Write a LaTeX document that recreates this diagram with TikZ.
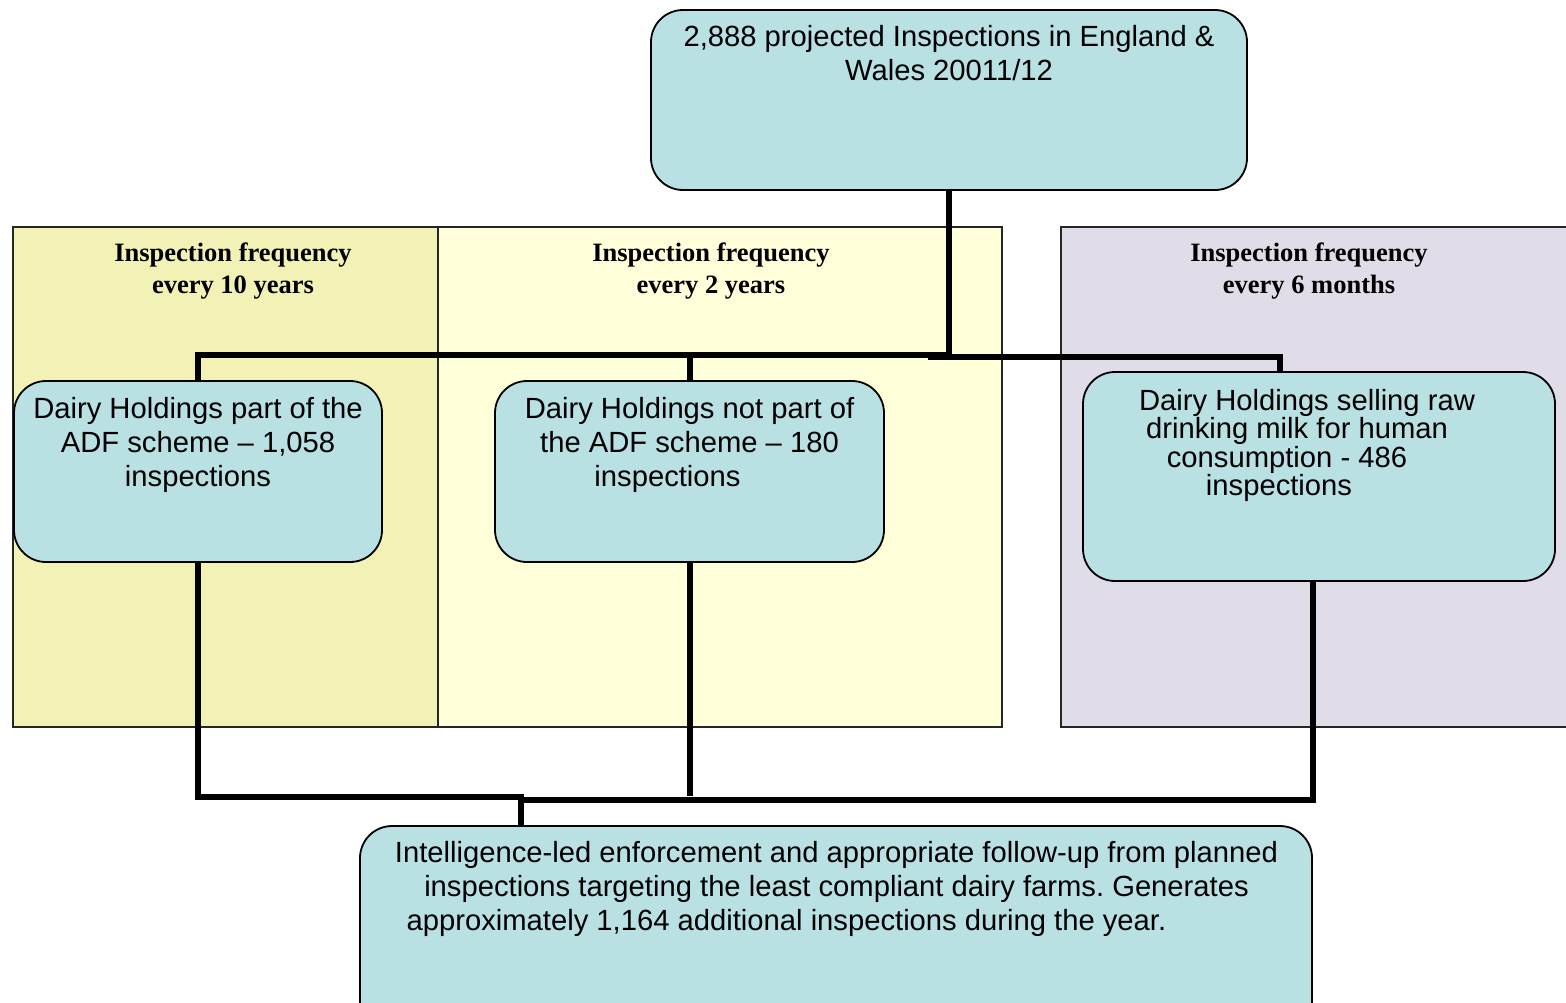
\documentclass[tikz,border=0pt]{standalone}
\usepackage{fontspec}
\setmainfont{Liberation Sans}
\newfontfamily\serfnt{Liberation Serif}
\frenchspacing
\definecolor{boxblue}{RGB}{185,224,227}
\definecolor{ylwdark}{RGB}{242,242,183}
\definecolor{ylwlight}{RGB}{255,255,217}
\definecolor{lavender}{RGB}{225,221,232}
\tikzset{
  panel/.style={draw=black!85, line width=1.4pt, inner sep=0pt},
  boxnode/.style={draw=black, line width=1.8pt, fill=boxblue, rounded corners=32pt, inner sep=0pt},
  conn/.style={line width=6pt, line join=miter},
  boxtext/.style={font=\frenchspacing\fontsize{29.2}{34}\selectfont, align=center, inner sep=0pt, anchor=north},
  ttl/.style={font=\serfnt\bfseries\fontsize{26.5}{32}\selectfont, align=center, inner sep=0pt, anchor=north}
}
\begin{document}
\begin{tikzpicture}[x=1pt,y=-1pt]
\useasboundingbox (0,0) rectangle (1566,1002);
\clip (0,0) rectangle (1566,1002);
% panels
\node[panel, fill=ylwdark, minimum width=425pt, minimum height=500pt] (pleft) at (225.5,477) {};
\node[panel, fill=ylwlight, minimum width=564pt, minimum height=500pt] (pmid) at (720,477) {};
\node[panel, fill=lavender, minimum width=539pt, minimum height=500pt] (pright) at (1330.5,477) {};
\node[ttl] (tleft) at (233,243) {Inspection frequency\\every 10 years};
\node[ttl] (tmid) at (711,243) {Inspection frequency\\every 2 years};
\node[ttl] (tright) at (1309,243) {Inspection frequency\\every 6 months};
% boxes
\node[boxnode, minimum width=596pt, minimum height=180pt] (top) at (949,100) {};
\node[boxnode, minimum width=368pt, minimum height=181pt] (lbox) at (198,471.5) {};
\node[boxnode, minimum width=389pt, minimum height=181pt] (mbox) at (689.5,471.5) {};
\node[boxnode, minimum width=472pt, minimum height=209pt] (rbox) at (1319,476.5) {};
\node[boxnode, minimum width=952pt, minimum height=220pt] (bbox) at (836,936) {};
% texts
\node[boxtext] (toptxt) at (949,25) {2,888 projected Inspections in England \&\\Wales 20011/12};
\node[boxtext] (ltxt) at (198,397) {Dairy Holdings part of the\\ADF scheme – 1,058\\inspections};
\node[boxtext] (mtxt) at (689.5,397) {Dairy Holdings not part of\\the ADF scheme – 180\\inspections\kern44pt};
\node[boxtext, font=\fontsize{29.2}{28.5}\selectfont] (rtxt) at (1307,389) {Dairy Holdings selling raw\\drinking milk for human\kern20pt\\consumption - 486\kern40pt\\inspections\kern56pt};
\node[boxtext] (btxt) at (836.5,841) {Intelligence-led enforcement and appropriate follow-up from planned\\inspections targeting the least compliant dairy farms. Generates\\approximately 1,164 additional inspections during the year.\kern100pt};
% connectors
\coordinate (j1) at (949,355);
\coordinate (j2) at (928,357);
\coordinate (j3) at (1280,357);
\coordinate (k1) at (521,797);
\coordinate (k2) at (1313,800);
\coordinate (k3) at (689,796);
\draw[conn] (top.south) -- (j1);
\draw[conn] (lbox.north) |- (j1);
\draw[conn] (mbox.north) -- (mbox.north |- j1);
\draw[conn] (j2) -- (j3) -- (j3 |- rbox.north);
\draw[conn] (lbox.south) |- (k1) -- (k1 |- bbox.north);
\draw[conn] (k2 |- rbox.south) -- (k2) -- (k2 -| k1);
\draw[conn] (mbox.south) -- (mbox.south |- k3);
\end{tikzpicture}
\end{document}
